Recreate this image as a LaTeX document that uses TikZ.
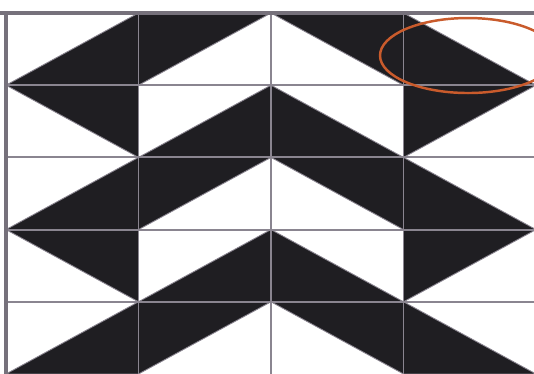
\documentclass[tikz,border=0pt]{standalone}
\usetikzlibrary{calc}
\definecolor{tileblack}{HTML}{1F1E22}
\definecolor{gridgray}{HTML}{8A8590}
\definecolor{framegray}{HTML}{76717B}
\definecolor{markorange}{HTML}{C95B2C}

\begin{document}
\begin{tikzpicture}[x=2.65cm, y=-1.444cm,
    tile/.style={fill=tileblack, draw=gridgray, line width=0.5pt, line join=round},
    gridline/.style={gridgray, line width=1.1pt},
    frameline/.style={framegray, line width=#1}]
    % canvas, cut like the photo
    \useasboundingbox (-0.0453,-0.18) rectangle (3.985,5.0);
    \clip (-0.0453,-0.18) rectangle (3.985,5.0);
    \fill[white] (-0.0453,-0.18) rectangle (3.985,5.0);
    % rows 1, 3, 5
    \foreach \r in {0,2,4} {
        \path[tile] (0,\r+1) -- (1,\r+1) -- (1,\r) -- cycle;
        \path[tile] (1,\r) -- (2,\r) -- (1,\r+1) -- cycle;
        \path[tile] (2,\r) -- (3,\r) -- (3,\r+1) -- cycle;
        \path[tile] (3,\r) -- (3,\r+1) -- (4,\r+1) -- cycle;
    }
    % rows 2, 4
    \foreach \r in {1,3} {
        \path[tile] (0,\r) -- (1,\r) -- (1,\r+1) -- cycle;
        \path[tile] (1,\r+1) -- (2,\r+1) -- (2,\r) -- cycle;
        \path[tile] (2,\r) -- (2,\r+1) -- (3,\r+1) -- cycle;
        \path[tile] (3,\r) -- (4,\r) -- (3,\r+1) -- cycle;
    }
    % grid lines
    \foreach \x in {1,2,3} {
        \draw[gridline] (\x,0) -- (\x,5);
    }
    \foreach \y in {1,...,4} {
        \draw[gridline] (0,\y) -- (4,\y);
    }
    % outer frame
    \draw[frameline=2.3pt] (0,5) -- (0,0);
    \draw[frameline=2.8pt] (-0.05,0) -- (4,0);
    % marked tile
    \draw[markorange, line width=1.4pt] (3.487,0.589) ellipse [x radius=1.76cm, y radius=0.75cm];
\end{tikzpicture}
\end{document}
